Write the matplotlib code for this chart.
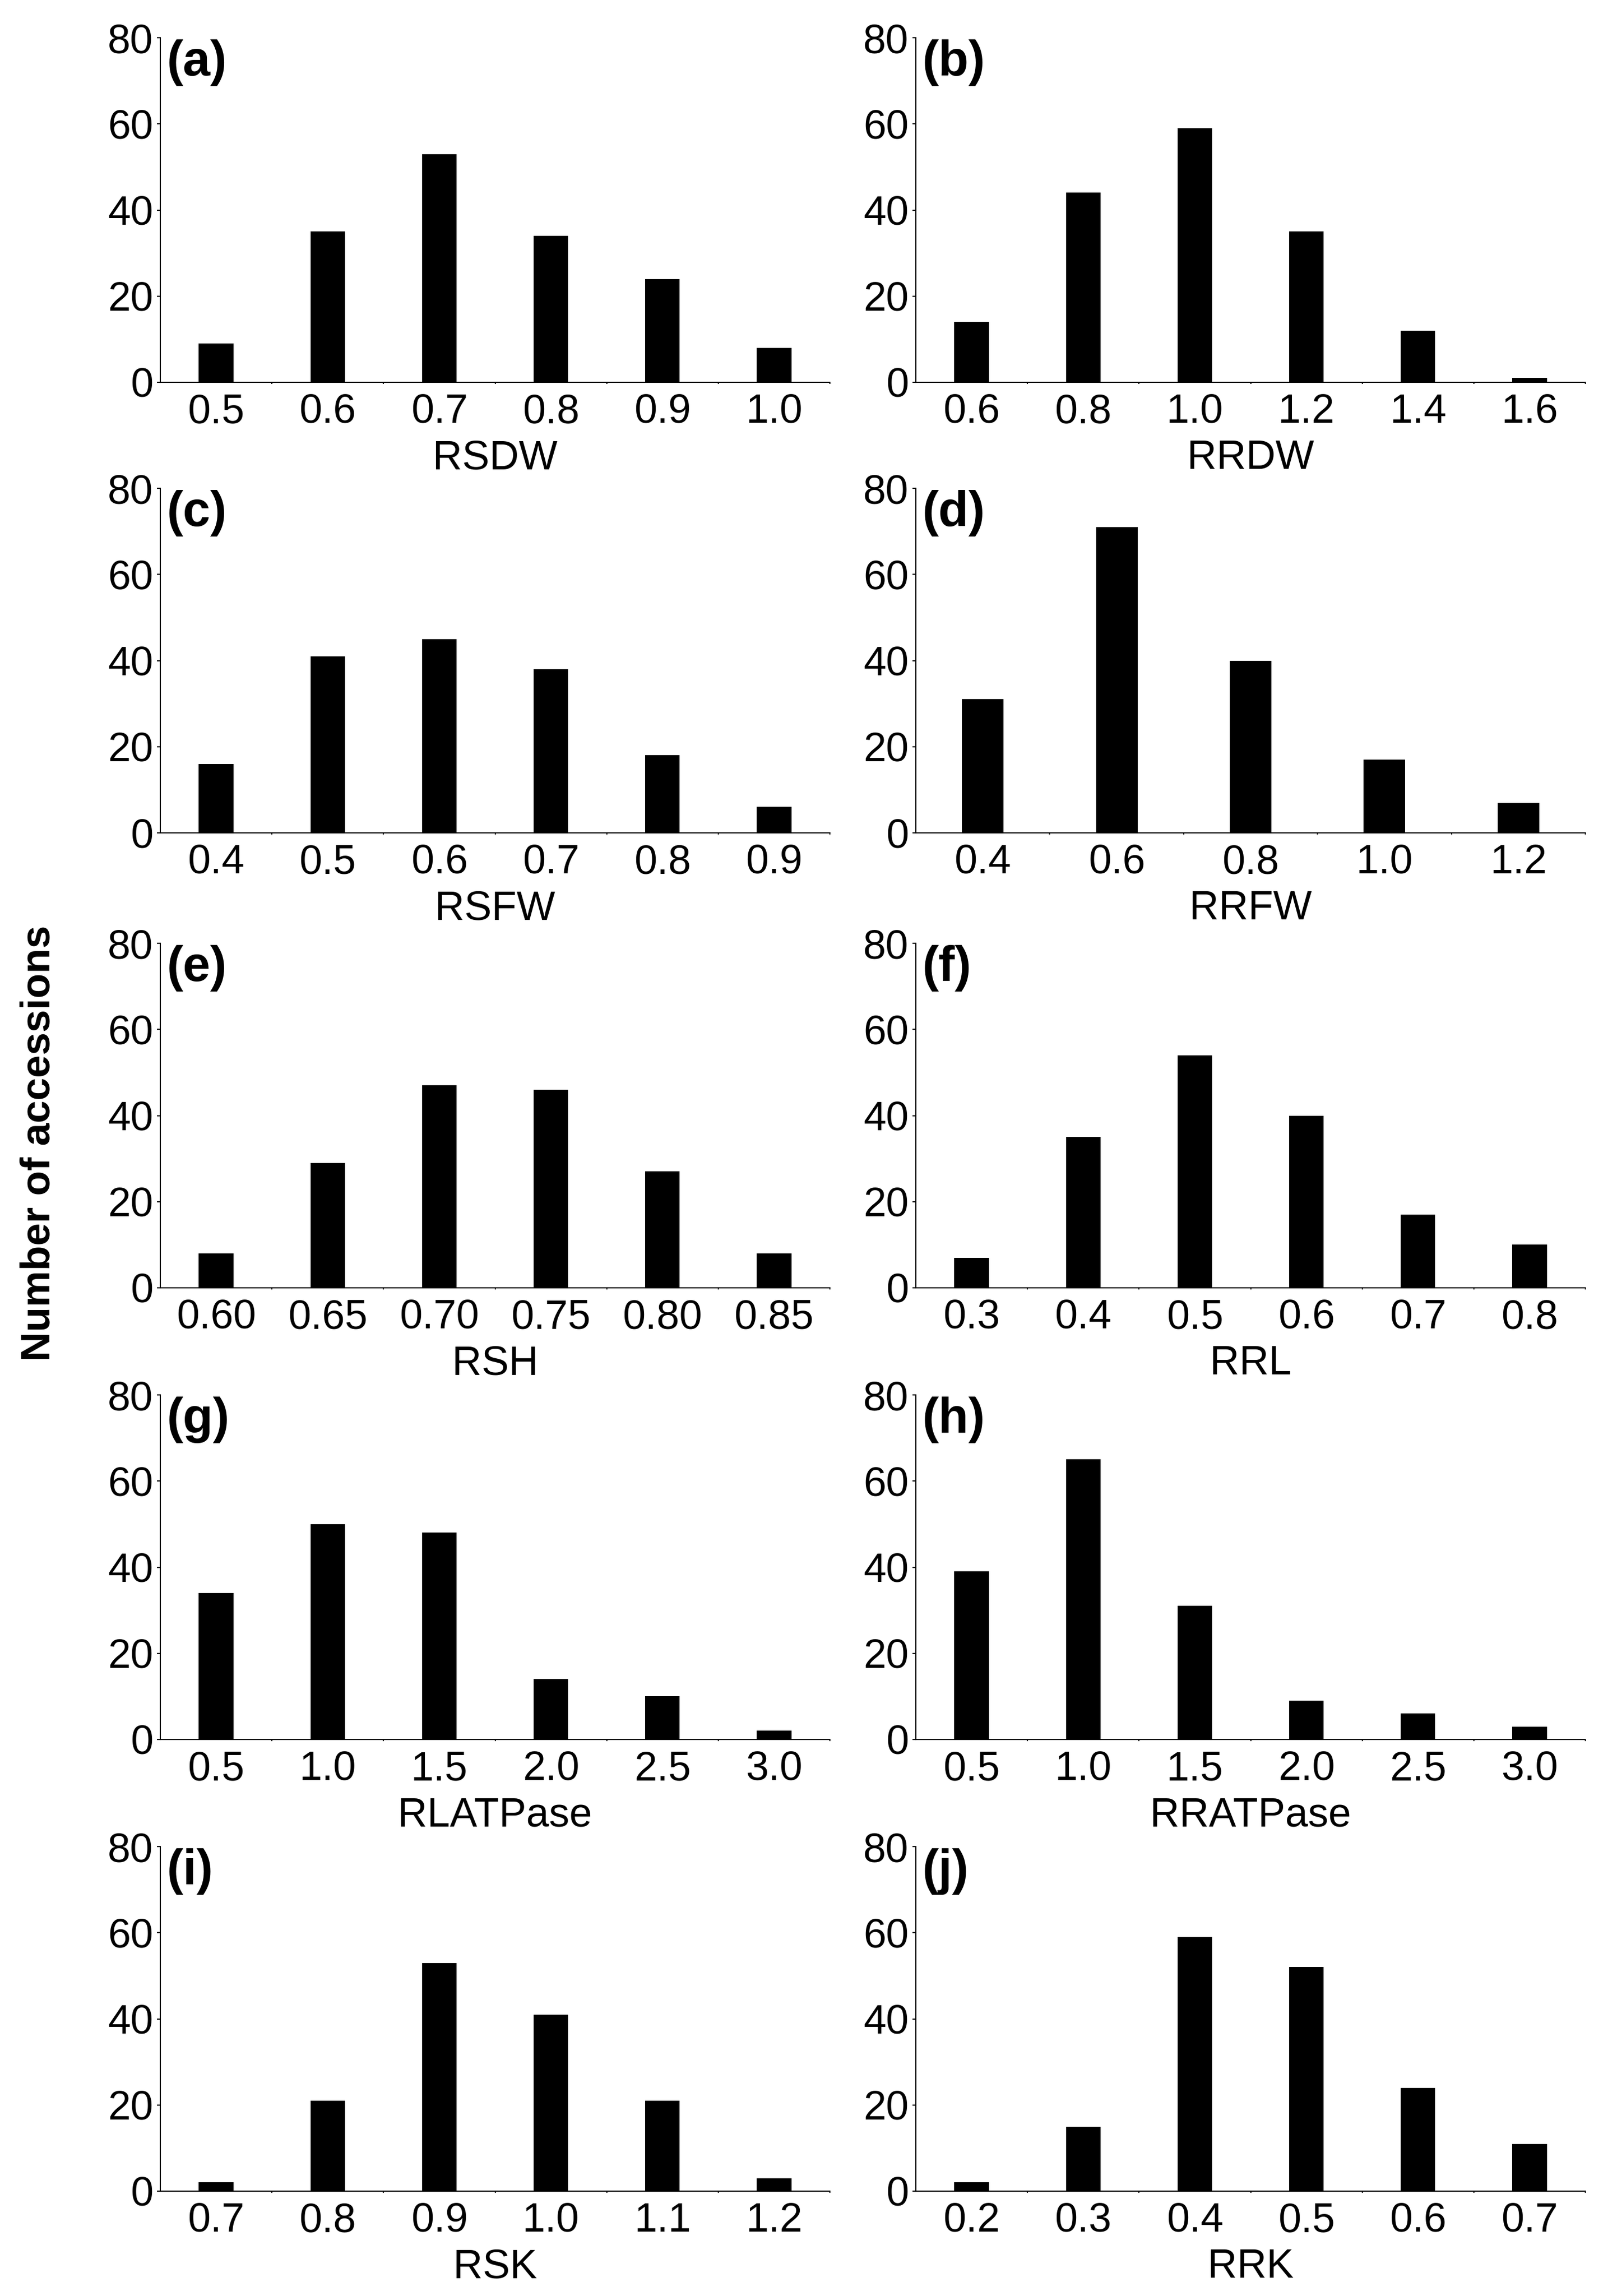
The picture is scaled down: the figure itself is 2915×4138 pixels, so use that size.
import matplotlib
matplotlib.use("Agg")
import matplotlib.pyplot as plt
import numpy as np

plt.rcParams['font.family'] = ['Liberation Sans', 'DejaVu Sans']

# bin labels and accession counts per trait
rsdw_bins = ['0.5', '0.6', '0.7', '0.8', '0.9', '1.0']
rsdw_counts = [9, 35, 53, 34, 24, 8]
rrdw_bins = ['0.6', '0.8', '1.0', '1.2', '1.4', '1.6']
rrdw_counts = [14, 44, 59, 35, 12, 1]
rsfw_bins = ['0.4', '0.5', '0.6', '0.7', '0.8', '0.9']
rsfw_counts = [16, 41, 45, 38, 18, 6]
rrfw_bins = ['0.4', '0.6', '0.8', '1.0', '1.2']
rrfw_counts = [31, 71, 40, 17, 7]
rsh_bins = ['0.60', '0.65', '0.70', '0.75', '0.80', '0.85']
rsh_counts = [8, 29, 47, 46, 27, 8]
rrl_bins = ['0.3', '0.4', '0.5', '0.6', '0.7', '0.8']
rrl_counts = [7, 35, 54, 40, 17, 10]
rlatpase_bins = ['0.5', '1.0', '1.5', '2.0', '2.5', '3.0']
rlatpase_counts = [34, 50, 48, 14, 10, 2]
rratpase_bins = ['0.5', '1.0', '1.5', '2.0', '2.5', '3.0']
rratpase_counts = [39, 65, 31, 9, 6, 3]
rsk_bins = ['0.7', '0.8', '0.9', '1.0', '1.1', '1.2']
rsk_counts = [2, 21, 53, 41, 21, 3]
rrk_bins = ['0.2', '0.3', '0.4', '0.5', '0.6', '0.7']
rrk_counts = [2, 15, 59, 52, 24, 11]

panels = [
    ('(a)', 'RSDW', rsdw_bins, rsdw_counts),
    ('(b)', 'RRDW', rrdw_bins, rrdw_counts),
    ('(c)', 'RSFW', rsfw_bins, rsfw_counts),
    ('(d)', 'RRFW', rrfw_bins, rrfw_counts),
    ('(e)', 'RSH', rsh_bins, rsh_counts),
    ('(f)', 'RRL', rrl_bins, rrl_counts),
    ('(g)', 'RLATPase', rlatpase_bins, rlatpase_counts),
    ('(h)', 'RRATPase', rratpase_bins, rratpase_counts),
    ('(i)', 'RSK', rsk_bins, rsk_counts),
    ('(j)', 'RRK', rrk_bins, rrk_counts),
]

W, H = 2915, 4138
fig = plt.figure(figsize=(W / 100, H / 100), dpi=100)

col_left = [289, 1651]
col_width = 1207
row_top = [68, 880, 1700, 2514, 3328]
ax_height = 621

for i, (tag, name, bins, counts) in enumerate(panels):
    r, c = divmod(i, 2)
    left = col_left[c] / W
    bottom = 1 - (row_top[r] + ax_height) / H
    ax = fig.add_axes([left, bottom, col_width / W, ax_height / H])
    x = np.arange(len(bins))
    ax.bar(x, counts, width=0.31, color='black')
    ax.set_xlim(-0.5, len(bins) - 0.5)
    ax.set_ylim(0, 80)
    ax.set_yticks([0, 20, 40, 60, 80])
    ax.set_xticks(x)
    ax.set_xticklabels(bins)
    ax.set_xticks(np.arange(len(bins)) + 0.5, minor=True)
    ax.tick_params(axis='x', which='major', length=0, pad=14, labelsize=53)
    ax.tick_params(axis='x', which='minor', length=2.5, width=1.5, direction='out')
    ax.tick_params(axis='y', length=4.5, width=1.5, pad=5, labelsize=53)
    for s in ['top', 'right']:
        ax.spines[s].set_visible(False)
    for s in ['left', 'bottom']:
        ax.spines[s].set_linewidth(1.5)
    ax.set_xlabel(name, fontsize=53, labelpad=10)
    ax.text(0.01, 0.995, tag, transform=ax.transAxes, fontsize=64,
            fontweight='bold', ha='left', va='top')

fig.text(70 / W, 0.502, 'Number of accessions', rotation=90, fontsize=53,
         fontweight='bold', ha='center', va='center')

fig.savefig('out.png', dpi=100)
